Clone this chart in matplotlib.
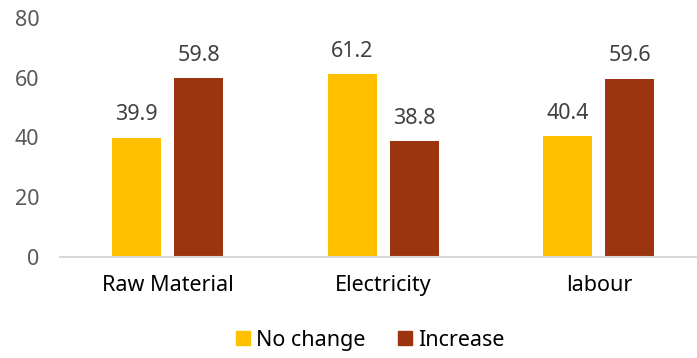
import numpy as np
import matplotlib
matplotlib.use("Agg")
import matplotlib.pyplot as plt
from matplotlib.patches import Patch

plt.rcParams['font.family'] = ['Noto Sans', 'DejaVu Sans']

categories = ["Raw Material", "Electricity", "labour"]
no_change = [39.9, 61.2, 40.4]
increase = [59.8, 38.8, 59.6]
series_names = ["No change", "Increase"]
yticks = [0, 20, 40, 60, 80]

c_yellow = "#FFC000"
c_red = "#9C3410"

fig = plt.figure(figsize=(6.97, 3.58), dpi=100)
ax = fig.add_axes([0.0861, 0.282, 0.9139, 0.668])

x = np.arange(len(categories))
w = 0.227
off = 0.144
b1 = ax.bar(x - off, no_change, w, color=c_yellow)
b2 = ax.bar(x + off, increase, w, color=c_red)

for bars, vals in [(b1, no_change), (b2, increase)]:
    for b, v in zip(bars, vals):
        ax.annotate("%.1f" % v, (b.get_x() + b.get_width() / 2, v),
                    xytext=(0, 9), textcoords="offset points",
                    ha="center", va="bottom", fontsize=15.5, color="#404040")

ax.set_xlim(-0.5, 2.455)
ax.set_ylim(0, 80)
ax.set_yticks(yticks)
ax.set_xticks(x)
ax.set_xticklabels(categories, fontsize=15.5, color="black")
ax.tick_params(axis="y", length=0, labelsize=15.5, labelcolor="#595959", pad=15)
ax.tick_params(axis="x", length=0, pad=13)

for s in ["top", "right", "left"]:
    ax.spines[s].set_visible(False)
ax.spines["bottom"].set_color("#D9D9D9")
ax.spines["bottom"].set_linewidth(1.5)

handles = [Patch(color=c_yellow), Patch(color=c_red)]
fig.legend(handles, series_names, loc="center", bbox_to_anchor=(0.531, 0.05),
           ncol=2, frameon=False, fontsize=15.5, handlelength=0.65, handleheight=0.65,
           handletextpad=0.3, columnspacing=1.5)

fig.savefig("out.png", dpi=100)
